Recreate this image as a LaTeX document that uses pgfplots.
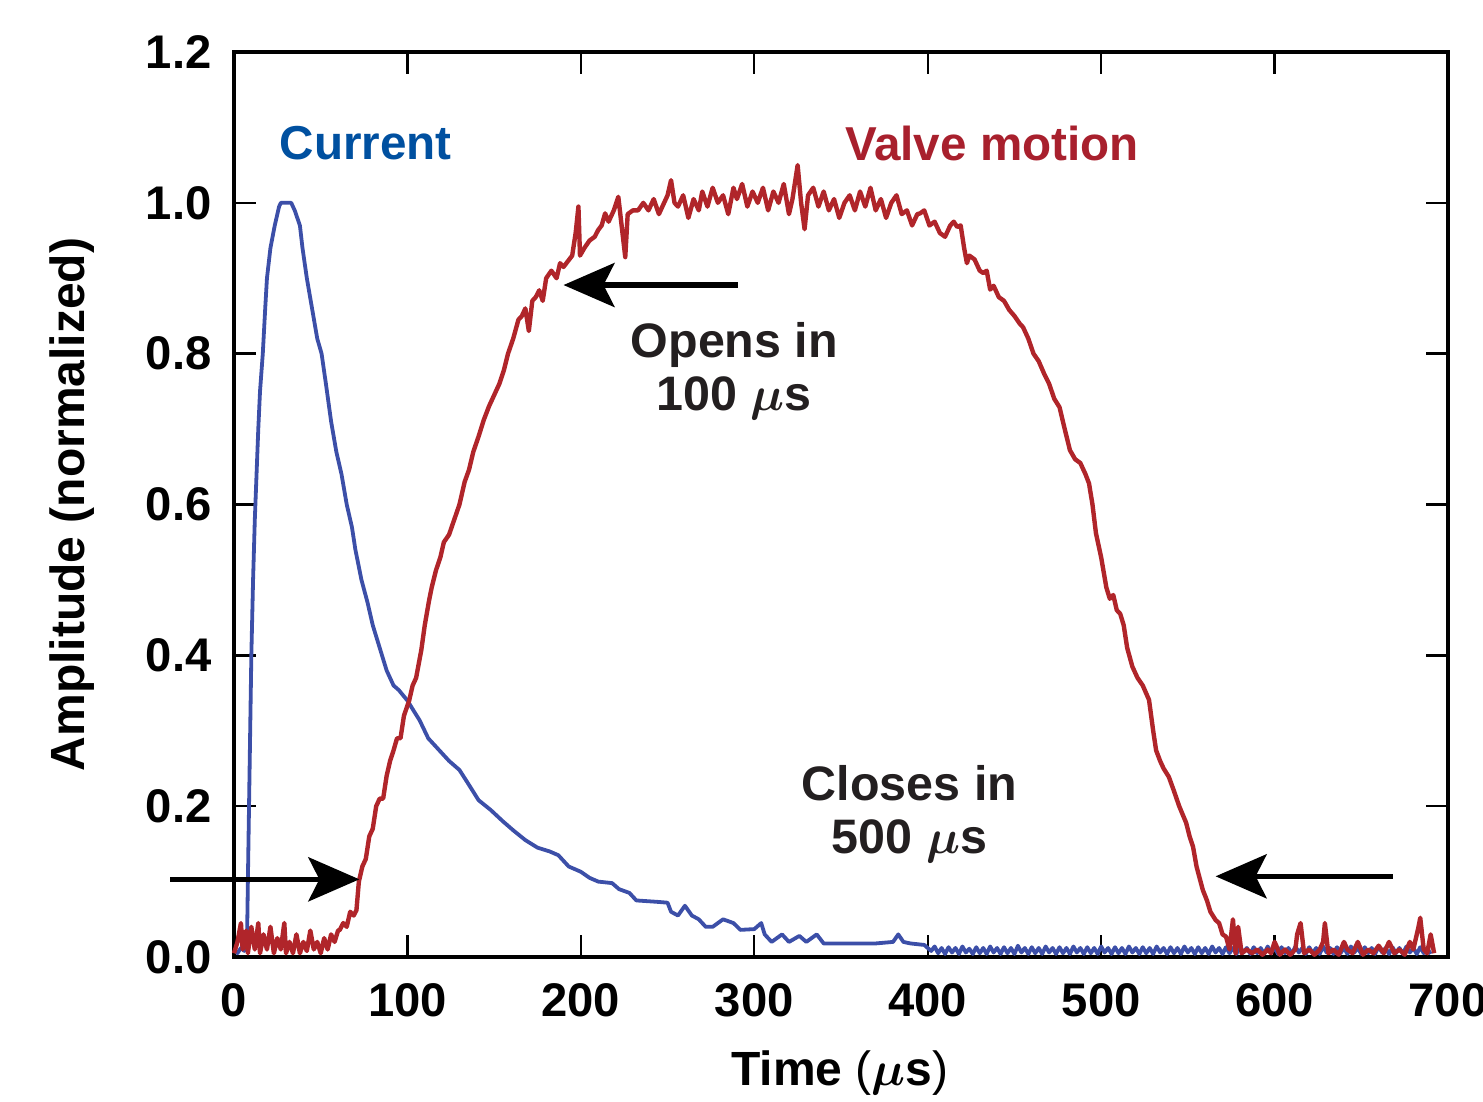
\documentclass[border=0pt]{standalone}
\usepackage{pgfplots}
\pgfplotsset{compat=1.18}
\usepackage{fontspec}
\setmainfont{Liberation Sans}
\usepackage{bm}
\usetikzlibrary{arrows.meta,calc}
\definecolor{curblue}{HTML}{3C4FA8}
\definecolor{valred}{HTML}{B0252A}
\definecolor{txtblue}{HTML}{0050A0}
\definecolor{txtred}{HTML}{A8202D}
\definecolor{txtblack}{HTML}{231F20}
\begin{document}
\begin{tikzpicture}
\begin{axis}[
  scale only axis,
  width=303.5pt, height=226.25pt,
  xmin=0, xmax=700, ymin=0, ymax=1.2,
  xtick={0,100,...,700},
  ytick={0,0.2,...,1.2},
  clip=false,
  axis line style={line width=0.8pt, black},
  every tick/.style={line width=0.6pt, black},
  major tick length=5.5pt,
  tick align=inside,
  /pgf/number format/assume math mode=true,
  ticklabel style={font=\fontsize{11.8}{13}\selectfont\bfseries, text=black},
  yticklabel style={/pgf/number format/fixed, /pgf/number format/fixed zerofill, /pgf/number format/precision=1, xshift=-2.1pt},
  xticklabel style={/pgf/number format/set thousands separator={}, yshift=-3.1pt},
  xlabel={\textbf{Time} {\mdseries(}$\bm{\mu}$\textbf{s}{\mdseries)}},
  ylabel={\textbf{Amplitude (normalized)}},
  label style={font=\fontsize{12}{13}\selectfont},
  xlabel style={at={(axis description cs:0.4992,-0.1282)}, anchor=center},
  ylabel style={at={(axis description cs:-0.1334,0.5)}, anchor=center},
]
\coordinate (A) at (rel axis cs:0,0);
\coordinate (B) at (rel axis cs:1,1);
% Current
\addplot[curblue, line width=0.95pt, line join=round] coordinates {
(0,0.01)(2,0.005)(4,0.012)(6,0.008)(7.5,0.02)(8,0.1)(9,0.25)(10,0.4)(11,0.5)(12,0.58)(13,0.64)(14,0.7)(15,0.75)(16.6,0.8)(18,0.86)(19,0.9)(21,0.94)(23.5,0.97)(26,0.995)(27,1.0)(33,1.0)(35,0.99)(38,0.97)(39.5,0.94)(42,0.9)(45,0.86)(48,0.82)(50.5,0.8)(53,0.76)(56,0.71)(59,0.67)(62,0.64)(65,0.6)(68,0.57)(70,0.54)(73.5,0.5)(77,0.47)(80,0.44)(84,0.41)(88,0.38)(92,0.36)(95,0.354)(100,0.34)(104,0.325)(107,0.314)(112,0.29)(118,0.275)(124,0.26)(130,0.248)(135,0.23)(141,0.208)(148,0.195)(155,0.18)(161,0.168)(168,0.155)(175,0.145)(182,0.14)(187,0.135)(193,0.12)(200,0.113)(205,0.105)(210,0.1)(218,0.098)(222,0.09)(228,0.085)(232,0.075)(245,0.073)(250,0.072)(252,0.06)(256,0.055)(260,0.068)(264,0.055)(268,0.05)(272,0.04)(276,0.04)(282,0.05)(288,0.045)(292,0.036)(300,0.037)(304,0.045)(306,0.03)(310,0.02)(316,0.03)(320,0.02)(326,0.028)(330,0.02)(336,0.03)(340,0.018)(350,0.018)(370,0.018)(380,0.02)(383,0.03)(386,0.02)(390,0.018)(398,0.016)(402,0.008)(404,0.014)
(406,0.005)(408,0.012)(410,0.004)(412,0.013)(414,0.006)(416,0.012)(418,0.004)(420,0.014)(422,0.006)(424,0.011)(426,0.004)(428,0.013)(430,0.005)(432,0.012)(434,0.004)(436,0.014)(438,0.006)(440,0.012)(442,0.004)(444,0.013)(446,0.005)(448,0.012)(450,0.004)(452,0.015)(454,0.006)(456,0.012)(458,0.004)(460,0.013)(462,0.005)(464,0.012)(466,0.004)(468,0.014)(470,0.006)(472,0.012)(474,0.004)(476,0.013)(478,0.005)(480,0.012)(482,0.004)(484,0.014)(486,0.006)(488,0.012)(490,0.004)(492,0.013)(494,0.005)(496,0.012)(498,0.004)(500,0.014)(502,0.006)(504,0.012)(506,0.004)(508,0.013)(510,0.005)(512,0.012)(514,0.004)(516,0.014)(518,0.006)(520,0.012)(522,0.004)(524,0.013)(526,0.005)(528,0.012)(530,0.004)(532,0.014)(534,0.006)(536,0.012)(538,0.004)(540,0.013)(542,0.005)(544,0.012)(546,0.004)(548,0.014)(550,0.006)(552,0.012)(554,0.004)(556,0.013)(558,0.005)(560,0.012)(562,0.004)(564,0.014)(566,0.006)(568,0.012)(570,0.004)(572,0.013)(574,0.005)(576,0.012)(578,0.004)(580,0.014)(582,0.006)(584,0.012)(586,0.004)(588,0.013)(590,0.005)(592,0.012)(594,0.004)(596,0.014)(598,0.006)(600,0.012)(602,0.004)(604,0.013)(606,0.005)(608,0.012)(610,0.004)(612,0.014)(614,0.006)(616,0.012)(618,0.004)(620,0.013)(622,0.005)(624,0.012)(626,0.004)(628,0.014)(630,0.006)(632,0.012)(634,0.004)(636,0.013)(638,0.005)(640,0.012)(642,0.004)(644,0.014)(646,0.006)(648,0.012)(650,0.004)(652,0.013)(654,0.005)(656,0.012)(658,0.004)(660,0.014)(662,0.006)(664,0.012)(666,0.004)(668,0.013)(670,0.005)(672,0.012)(674,0.004)(676,0.014)(678,0.006)(680,0.012)(682,0.004)(684,0.013)(686,0.005)(688,0.012)(690,0.004)
};
% Valve motion
\addplot[valred, line width=1.1pt, line join=round] coordinates {
(0,0.005)(2,0.02)(4,0.045)(5,0.01)(7,0.035)(8,0.005)(10,0.04)(12,0.01)(14,0.045)(15,0.005)(17,0.03)(19,0.01)(21,0.04)(23,0.005)(25,0.025)(27,0.01)(29,0.045)(30,0.005)(32,0.02)(34,0.005)(36,0.03)(38,0.005)(40,0.02)(42,0.008)(44,0.035)(46,0.01)(48,0.02)(50,0.005)(52,0.025)(54,0.01)(56,0.03)(58,0.02)(60,0.035)(61,0.036)(63,0.045)(65,0.04)(67,0.06)(69,0.055)(70.6,0.062)(72,0.1)(74,0.12)(76,0.13)(78,0.16)(80,0.17)(82,0.2)(84,0.21)(86,0.21)(88,0.24)(90,0.26)(92,0.274)(94,0.29)(96,0.29)(98,0.32)(101,0.34)(103,0.36)(105,0.37)(108,0.407)(110,0.44)(112.5,0.473)(114,0.49)(116.5,0.513)(119,0.53)(121,0.55)(124,0.56)(127,0.58)(130,0.6)(133,0.63)(135.5,0.646)(138,0.67)(141,0.69)(144,0.712)(147,0.73)(150,0.745)(153,0.76)(155.6,0.778)(158,0.8)(161,0.82)(164,0.845)(166,0.85)(168,0.86)(170,0.83)(172,0.87)(174,0.875)(176,0.884)(178,0.87)(180,0.9)(183,0.91)(186,0.9)(188,0.92)(190,0.915)(193,0.924)(195,0.93)(197,0.96)(198.6,0.995)(199.5,0.93)(202,0.94)(205,0.95)(208,0.955)(210,0.964)(212,0.97)(214,0.986)(216,0.975)(219,0.99)(221.6,1.008)(223,0.98)(225.6,0.928)(227,0.985)(230,0.99)(233,0.99)(236,1.0)(239,0.99)(242,1.005)(245,0.985)(248,1.0)(250,1.01)(252,1.03)(254,1.0)(256,0.995)(259,1.01)(262,0.98)(265,1.005)(268,0.99)(270,1.015)(273,0.995)(276,1.02)(279,1.0)(282,1.01)(285,0.985)(288,1.02)(290,1.005)(293,1.025)(296,0.995)(299,1.015)(302,1.0)(305,1.02)(308,0.99)(311,1.015)(314,1.0)(317,1.025)(320,0.985)(322,1.005)(325,1.05)(327,1.0)(329,0.965)(331,1.01)(334,1.02)(337,0.995)(340,1.015)(343,0.99)(346,1.005)(349,0.98)(352,1.0)(355,1.01)(358,0.99)(361,1.015)(364,0.995)(367,1.02)(370,0.99)(373,1.005)(376,0.98)(379,1.0)(382,1.01)(385,0.985)(388,0.99)(391,0.97)(394,0.985)(395.6,0.986)(398,0.99)(401,0.97)(404,0.975)(407,0.96)(410,0.955)(413,0.97)(415,0.975)(417,0.968)(419,0.97)(421,0.94)(422.6,0.92)(424,0.93)(427,0.925)(430,0.91)(432,0.907)(434,0.91)(436,0.885)(438,0.89)(441,0.875)(444,0.87)(447,0.858)(450,0.85)(453,0.84)(455,0.835)(458,0.82)(461,0.8)(464,0.79)(467,0.774)(470,0.76)(473,0.74)(476,0.729)(479,0.7)(482,0.672)(485,0.66)(488,0.655)(491,0.64)(493,0.628)(495,0.6)(497,0.562)(500,0.53)(503,0.49)(505,0.475)(507,0.48)(509,0.46)(511,0.455)(513,0.44)(515,0.41)(518,0.385)(521,0.37)(524,0.36)(527.6,0.341)(530,0.3)(531.7,0.274)(534,0.26)(536,0.25)(539,0.239)(542,0.22)(545,0.2)(549,0.178)(551,0.16)(553,0.146)(555,0.12)(558.6,0.089)(561,0.075)(563,0.06)(566,0.049)(568,0.045)(570,0.03)(572,0.027)(574,0.01)(576,0.05)(577.5,0.005)(579,0.04)(581,0.005)(584,0.01)(587,0.005)(590,0.01)(593,0.003)(596,0.01)(598,0.005)(600,0.02)(601,0.015)(603,0.003)(606,0.01)(609,0.003)(612,0.01)(613,0.03)(615,0.045)(617,0.005)(620,0.01)(623,0.003)(626,0.01)(628,0.02)(629,0.045)(631,0.005)(634,0.01)(637,0.003)(640,0.02)(642,0.01)(645,0.005)(648,0.02)(651,0.003)(654,0.01)(657,0.005)(660,0.015)(663,0.005)(666,0.02)(669,0.005)(672,0.01)(675,0.003)(678,0.02)(680,0.01)(683,0.04)(684,0.052)(686,0.01)(688,0.005)(690,0.03)(692,0.005)
};
% annotations
\node[font=\fontsize{11.9}{14}\selectfont\bfseries, text=txtblue] at (axis cs:76,1.079) {Current};
\node[font=\fontsize{11.9}{14}\selectfont\bfseries, text=txtred] at (axis cs:437,1.079) {Valve motion};
\node[font=\fontsize{12.1}{13.25}\selectfont\bfseries, text=txtblack, align=center] at (axis cs:288.5,0.777) {Opens in\\100 $\bm{\mu}$s};
\node[font=\fontsize{12.1}{13.25}\selectfont\bfseries, text=txtblack, align=center] at (axis cs:389.5,0.19) {Closes in\\500 $\bm{\mu}$s};
\draw[line width=1.4pt, -{Stealth[length=12.75pt, width=11pt, inset=2.75pt]}] (axis cs:290.5,0.891) -- (axis cs:190,0.891);
\draw[line width=1.4pt, -{Stealth[length=12.75pt, width=11pt, inset=2.75pt]}] (axis cs:-36.7,0.103) -- (axis cs:72.3,0.103);
\draw[line width=1.4pt, -{Stealth[length=12.75pt, width=11pt, inset=2.75pt]}] (axis cs:668,0.107) -- (axis cs:566,0.107);
\end{axis}
\pgfresetboundingbox
\useasboundingbox ($(A)+(-58.5pt,-36pt)$) rectangle ($(B)+(8.75pt,13pt)$);
\end{tikzpicture}
\end{document}
